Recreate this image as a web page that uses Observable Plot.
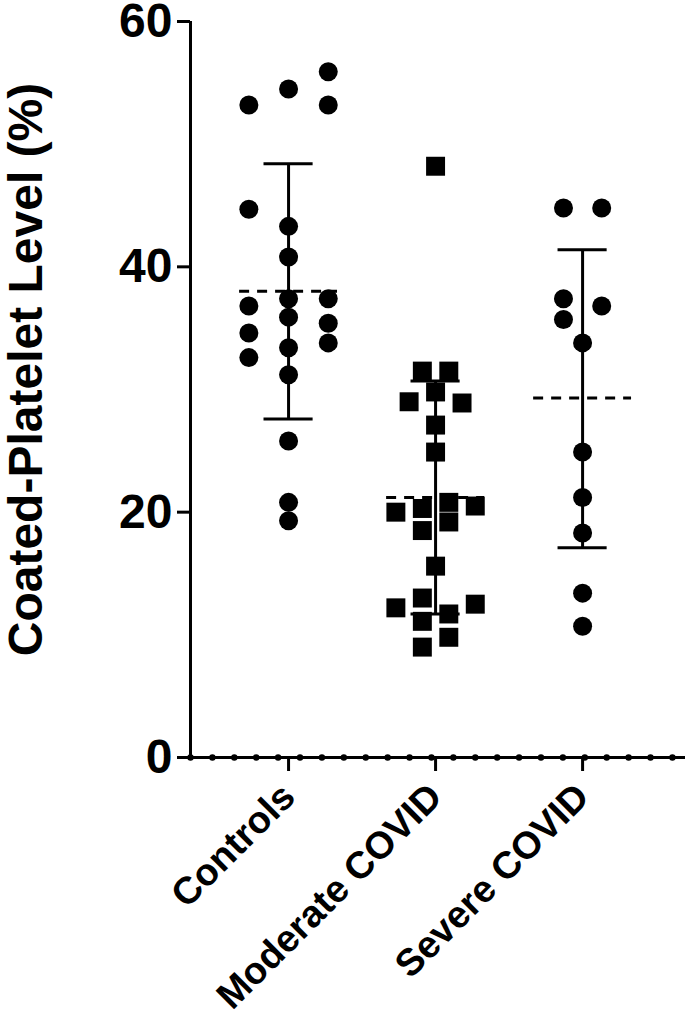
<!DOCTYPE html>
<html>
<head>
<meta charset="utf-8">
<script src="https://cdn.jsdelivr.net/npm/d3@7"></script>
<script src="https://cdn.jsdelivr.net/npm/@observablehq/plot@0.6"></script>
<style>
  html, body { margin: 0; padding: 0; background: #fff; }
  #chart svg { display: block; }
</style>
</head>
<body>
<div id="chart"></div>
<script>
// ---- data ----
const groups = ["Controls", "Moderate COVID", "Severe COVID"];
const yTicks = [0, 20, 40, 60];
const yLabel = "Coated-Platelet Level (%)";

// values and horizontal scatter offsets (in category units)
const controlsValues  = [53.2, 54.5, 55.9, 53.2, 44.7, 43.3, 40.8, 37.4, 37.4, 36.8, 35.9, 35.4, 34.6, 33.8, 33.4, 32.6, 31.2, 25.8, 20.8, 19.3];
const controlsOffsets = [-0.27, 0, 0.27, 0.27, -0.27, 0, 0, 0, 0.27, -0.27, 0, 0.27, -0.27, 0.27, 0, -0.27, 0, 0, 0, 0];

const moderateValues  = [48.2, 31.5, 31.5, 29.8, 29.0, 28.9, 27.1, 24.9, 20.0, 20.3, 20.8, 20.5, 18.5, 19.2, 15.6, 13.0, 12.2, 12.5, 11.1, 11.7, 9.8, 9.0];
const moderateOffsets = [0, -0.09, 0.09, 0, -0.18, 0.18, 0, 0, -0.27, -0.09, 0.09, 0.27, -0.09, 0.09, 0, -0.09, -0.27, 0.27, -0.09, 0.09, 0.09, -0.09];

const severeValues  = [44.8, 44.8, 37.4, 36.8, 35.7, 33.8, 24.9, 21.2, 18.3, 13.4, 10.7];
const severeOffsets = [-0.13, 0.13, -0.13, 0.13, -0.13, 0, 0, 0, 0, 0, 0];

// summary: mean and mean ± SD
const means  = [38.0, 21.2, 29.3];
const sdLow  = [27.6, 11.7, 17.1];
const sdHigh = [48.4, 30.7, 41.4];

// ---- build tables ----
const toRows = (vals, offs, gi) => vals.map((v, k) => ({x: gi + offs[k], y: v, group: groups[gi]}));
const circles = [...toRows(controlsValues, controlsOffsets, 0), ...toRows(severeValues, severeOffsets, 2)];
const squares = toRows(moderateValues, moderateOffsets, 1);
const stats = groups.map((g, i) => ({i, mean: means[i], lo: sdLow[i], hi: sdHigh[i]}));

const xDomain = [-0.667, 2.7];
const capHalf = 0.167, meanHalf = 0.333;
const axisDots = d3.range(0, 23).map(k => xDomain[0] + k * 0.149);

const font = "'Liberation Sans', Arial, Helvetica, sans-serif";

const chart = Plot.plot({
  width: 685,
  height: 1018,
  marginLeft: 190,
  marginRight: 0,
  marginTop: 21,
  marginBottom: 261,
  style: {fontFamily: font, color: "#000", background: "#fff", overflow: "visible"},
  x: {domain: xDomain},
  y: {domain: [0, 60]},
  marks: [
    // axes lines
    Plot.ruleX([xDomain[0]], {y1: 0, y2: 60, strokeWidth: 3, stroke: "#000"}),
    Plot.ruleY([0], {strokeWidth: 3, stroke: "#000"}),
    Plot.dot(axisDots, {x: d => d, y: () => 0, r: 3.2, fill: "#000"}),
    Plot.axisY({
      ticks: yTicks, tickSize: 13, tickPadding: 5, strokeWidth: 3,
      fontSize: 48, fontWeight: "bold", label: null, tickFormat: d => d
    }),
    Plot.axisX({
      ticks: [0, 1, 2], tickFormat: i => groups[i], tickRotate: -45,
      tickSize: 14, tickPadding: 19, strokeWidth: 3,
      fontSize: 38, fontWeight: "bold", label: null
    }),
    Plot.text([yLabel], {
      frameAnchor: "left", rotate: -90, dx: -149, dy: -20,
      fontSize: 48, fontWeight: "bold", lineAnchor: "bottom", textAnchor: "middle", fill: "#000"
    }),
    // error bars (mean ± SD)
    Plot.ruleX(stats, {x: "i", y1: "lo", y2: "hi", strokeWidth: 3, stroke: "#000"}),
    Plot.ruleY(stats, {y: "hi", x1: d => d.i - capHalf, x2: d => d.i + capHalf, strokeWidth: 3, stroke: "#000"}),
    Plot.ruleY(stats, {y: "lo", x1: d => d.i - capHalf, x2: d => d.i + capHalf, strokeWidth: 3, stroke: "#000"}),
    // mean lines
    Plot.ruleY(stats, {y: "mean", x1: d => d.i - meanHalf, x2: d => d.i + meanHalf, strokeWidth: 3, stroke: "#000", strokeDasharray: "10,8"}),
    // points
    Plot.dot(circles, {x: "x", y: "y", r: 9.5, fill: "#000", stroke: "none"}),
    Plot.dot(squares, {x: "x", y: "y", r: 10.7, symbol: "square", fill: "#000", stroke: "none"})
  ]
});
document.getElementById("chart").appendChild(chart);
</script>
</body>
</html>
